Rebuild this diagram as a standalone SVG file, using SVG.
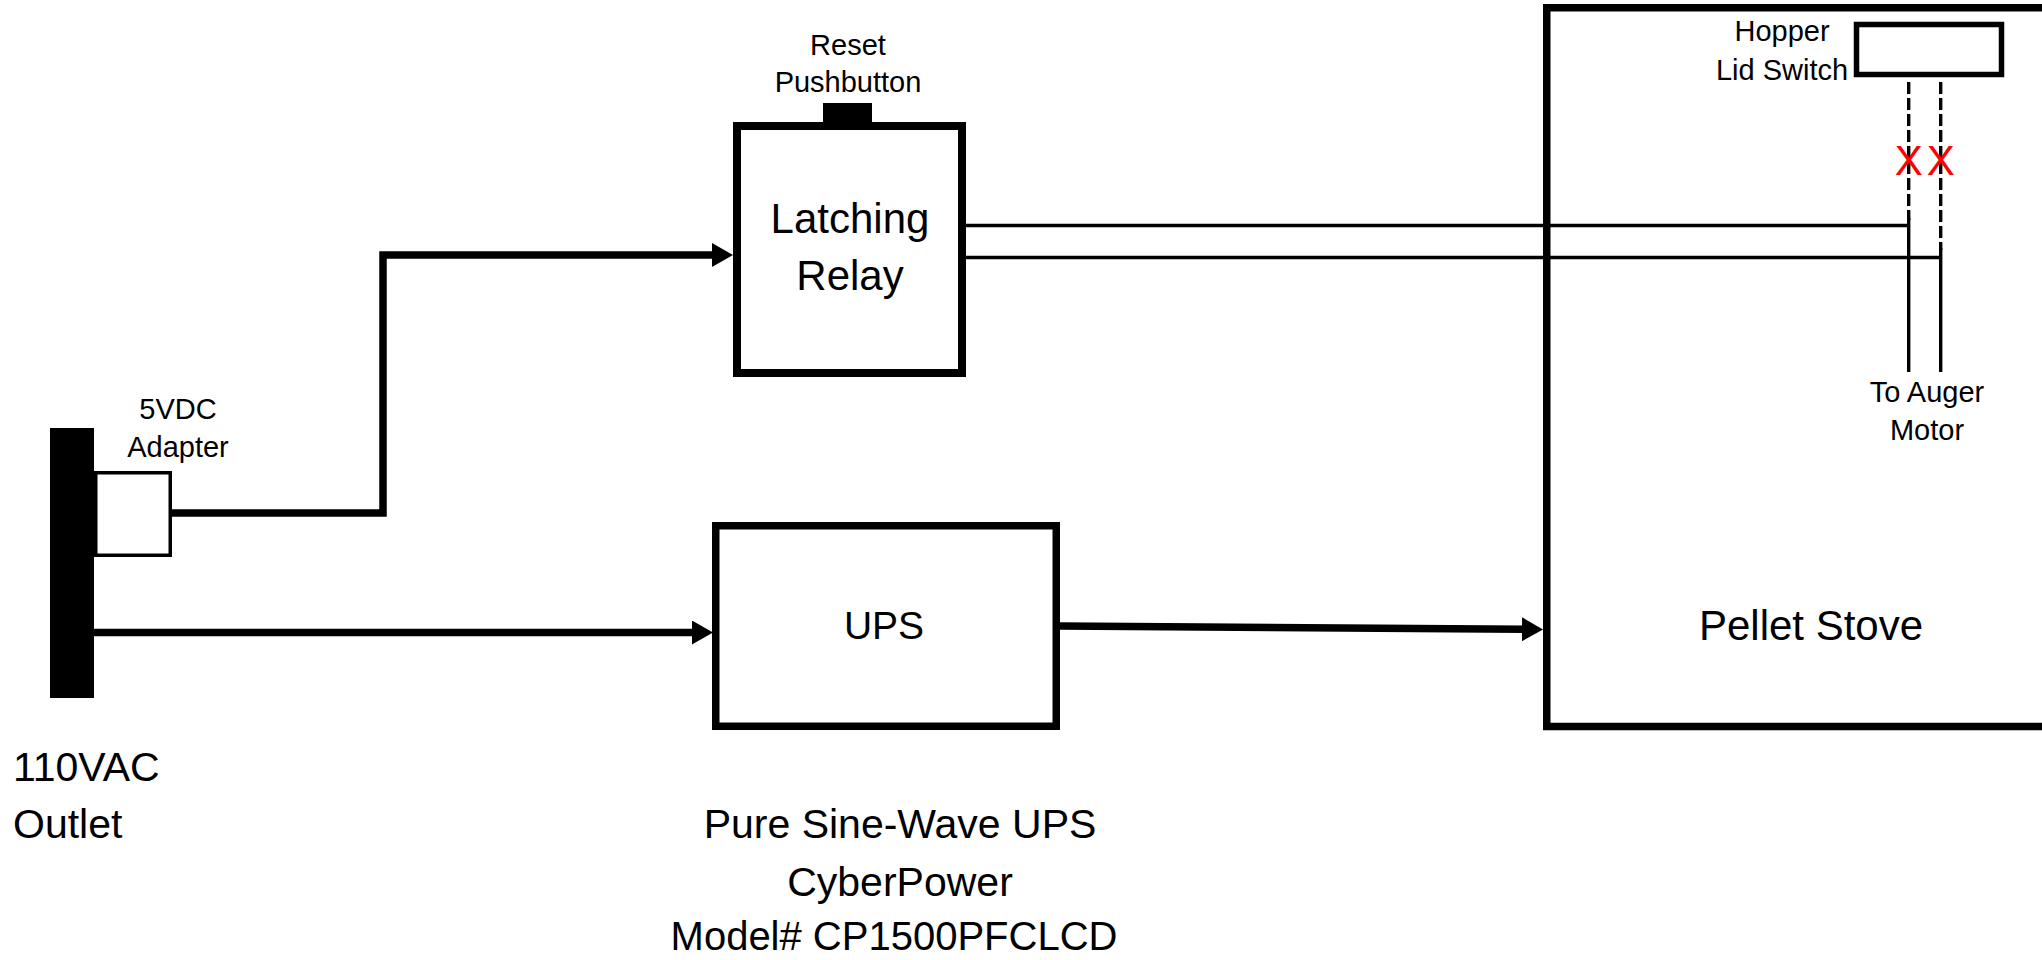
<svg xmlns="http://www.w3.org/2000/svg" width="2042" height="960" viewBox="0 0 2042 960">
<style>
.t{font-family:"Liberation Sans",Arial,sans-serif;fill:#000;text-anchor:middle}
.s{font-size:29px}
.b{font-size:42px}
.m{font-size:41px}
.box{fill:#fff;stroke:#000}
.w{fill:none;stroke:#000;stroke-width:7.5;stroke-linejoin:miter;stroke-linecap:butt}
.thin{fill:none;stroke:#000;stroke-width:3.4}
.dash{fill:none;stroke:#000;stroke-width:3.4;stroke-dasharray:12 4}
.x{font-family:"Liberation Sans",Arial,sans-serif;font-size:42px;fill:#ff0000;text-anchor:middle}
</style>
<defs>
<marker id="ah" markerUnits="userSpaceOnUse" viewBox="0 -12 21 24" markerWidth="21" markerHeight="24" refX="2" refY="0" orient="auto">
<path d="M0,-12 L21,0 L0,12 Z" fill="#000"/>
</marker>
</defs>
<rect width="2042" height="960" fill="#fff"/>

<g id="pellet-stove">
<path d="M2060,7.75 H1546.75 V726.5 H2060" fill="none" stroke="#000" stroke-width="7.5"/>
<text class="t b" x="1811" y="640">Pellet Stove</text>
</g>

<g id="hopper-switch">
<rect class="box" x="1856.5" y="24.5" width="145" height="50" stroke-width="5.5"/>
<text class="t s" x="1782" y="41">Hopper</text>
<text class="t s" x="1782" y="80">Lid Switch</text>
</g>

<g id="outlet">
<rect x="50" y="428" width="44" height="270" fill="#000"/>
<text class="t m" x="13" y="781" style="text-anchor:start">110VAC</text>
<text class="t m" x="13" y="838" style="text-anchor:start">Outlet</text>
</g>

<g id="adapter">
<rect class="box" x="95.75" y="472.75" width="74.5" height="82.5" stroke-width="3.5"/>
<text class="t s" x="178" y="419">5VDC</text>
<text class="t s" x="178" y="457">Adapter</text>
</g>

<g id="latching-relay">
<rect x="823" y="103" width="49" height="21" fill="#000"/>
<rect class="box" x="737" y="126" width="225" height="247" stroke-width="8"/>
<text class="t b" x="850" y="233">Latching</text>
<text class="t b" x="850" y="290">Relay</text>
<text class="t s" x="848" y="55">Reset</text>
<text class="t s" x="848" y="92">Pushbutton</text>
</g>

<g id="ups">
<rect class="box" x="715.75" y="525.75" width="340.5" height="200.5" stroke-width="7.5"/>
<text class="t" x="884" y="639" style="font-size:39px">UPS</text>
<text class="t m" x="900" y="838">Pure Sine-Wave UPS</text>
<text class="t m" x="900" y="896">CyberPower</text>
<text class="t" x="894" y="950" style="font-size:40px">Model# CP1500PFCLCD</text>
</g>

<g id="connectors">
<polyline class="w" points="172,513 383,513 383,255 714,255" marker-end="url(#ah)"/>
<line class="w" x1="94" y1="632.5" x2="694" y2="632.5" marker-end="url(#ah)"/>
<line class="w" x1="1060" y1="626" x2="1524" y2="629.3" marker-end="url(#ah)"/>
<polyline class="thin" points="966,225.5 1908.7,225.5"/>
<polyline class="thin" points="966,257.5 1940.7,257.5"/>
<line class="dash" x1="1908.7" y1="82" x2="1908.7" y2="220"/>
<line class="dash" x1="1940.7" y1="82" x2="1940.7" y2="250"/>
<line class="thin" x1="1908.7" y1="218" x2="1908.7" y2="372"/>
<line class="thin" x1="1940.7" y1="248" x2="1940.7" y2="372"/>
</g>

<g id="cut-marks">
<text class="x" x="1908.7" y="175">X</text>
<text class="x" x="1940.7" y="175">X</text>
</g>

<g id="auger-label">
<text class="t s" x="1927" y="402">To Auger</text>
<text class="t s" x="1927" y="440">Motor</text>
</g>
</svg>
